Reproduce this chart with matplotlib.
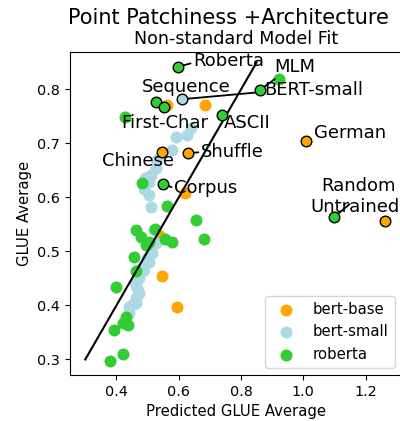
import matplotlib.pyplot as plt

# bert-base (orange)
base_x = [0.561, 0.686, 0.621, 0.547, 0.596, 0.541]
base_y = [0.772, 0.771, 0.608, 0.454, 0.397, 0.528]

# bert-small (light blue)
small_x = [0.640, 0.628, 0.592, 0.579, 0.531, 0.528, 0.512, 0.506, 0.490, 0.506,
           0.512, 0.522, 0.528, 0.515, 0.506, 0.490, 0.474, 0.467, 0.464, 0.474,
           0.451, 0.441, 0.441, 0.464, 0.499, 0.483, 0.461, 0.493]
small_y = [0.728, 0.715, 0.712, 0.687, 0.669, 0.654, 0.641, 0.628, 0.615, 0.604,
           0.582, 0.540, 0.516, 0.497, 0.480, 0.465, 0.451, 0.432, 0.414, 0.423,
           0.401, 0.397, 0.386, 0.404, 0.488, 0.471, 0.441, 0.636]

# roberta (green)
rob_x = [0.429, 0.923, 0.483, 0.563, 0.654, 0.464, 0.525, 0.557, 0.579, 0.682,
         0.480, 0.496, 0.506, 0.455, 0.463, 0.400, 0.432, 0.420, 0.436, 0.393,
         0.420, 0.380]
rob_y = [0.749, 0.819, 0.627, 0.584, 0.558, 0.540, 0.541, 0.523, 0.517, 0.523,
         0.527, 0.512, 0.517, 0.489, 0.463, 0.434, 0.378, 0.367, 0.364, 0.354,
         0.310, 0.297]

# labelled (non-standard) models
lab_names = ["Roberta", "MLM", "BERT-small", "Sequence", "First-Char", "ASCII",
             "Chinese", "Shuffle", "Corpus", "German", "Random", "Untrained"]
lab_x = [0.599, 0.861, 0.612, 0.528, 0.554, 0.740, 0.547, 0.631, 0.551, 1.009, 1.100, 1.263]
lab_y = [0.842, 0.799, 0.782, 0.776, 0.767, 0.752, 0.684, 0.682, 0.625, 0.704, 0.564, 0.556]
lab_model = ["roberta", "roberta", "bert-small", "roberta", "roberta", "roberta",
             "bert-base", "bert-base", "roberta", "bert-base", "roberta", "bert-base"]
text_x = [0.647, 0.907, 0.875, 0.483, 0.416, 0.746, 0.355, 0.672, 0.586, 1.035, 1.058, 1.022]
text_y = [0.853, 0.841, 0.799, 0.804, 0.738, 0.738, 0.667, 0.684, 0.617, 0.719, 0.621, 0.582]
# where the connector leaves the label box
rel_pos = [(0, 0.4), (0.1, 0), (0, 0.4), (0.2, 0), (0.45, 1), (0, 1),
           (0.8, 1), (0, 0.5), (0, 0.5), (0, 0), (0.38, -0.5), (0.79, 0)]

colors = {"bert-base": "orange", "bert-small": "lightblue", "roberta": "limegreen"}

fig = plt.figure(figsize=(4, 4.21), dpi=100)
ax = fig.add_axes([0.175, 0.109, 0.83, 0.767])

ax.scatter(base_x, base_y, s=58, color=colors["bert-base"], label="bert-base", zorder=2)
ax.scatter(small_x, small_y, s=58, color=colors["bert-small"], label="bert-small", zorder=2)
ax.scatter(rob_x, rob_y, s=58, color=colors["roberta"], label="roberta", zorder=2)

# identity line
ax.plot([0.3, 0.85], [0.3, 0.85], color="black", lw=1.5, zorder=3)

for name, x, y, m, tx, ty, rp in zip(lab_names, lab_x, lab_y, lab_model,
                                     text_x, text_y, rel_pos):
    ax.annotate(name, xy=(x, y), xytext=(tx, ty), fontsize=13,
                ha="left", va="center", zorder=4,
                arrowprops=dict(arrowstyle="-", color="black", lw=1.3,
                                shrinkA=0, shrinkB=0, relpos=rp))
    ax.scatter([x], [y], s=58, color=colors[m], edgecolor="black",
               linewidth=1.0, zorder=5)

ax.set_xlim(0.251, 1.317)
ax.set_ylim(0.271, 0.869)
ax.set_xticks([0.4, 0.6, 0.8, 1.0, 1.2])
ax.set_yticks([0.3, 0.4, 0.5, 0.6, 0.7, 0.8])
ax.tick_params(labelsize=10.4)
ax.set_xlabel("Predicted GLUE Average", fontsize=10.7)
ax.set_ylabel("GLUE Average", fontsize=10.7)
ax.set_title("Non-standard Model Fit", fontsize=12.6, pad=6)
fig.suptitle("Point Patchiness +Architecture", fontsize=15, x=0.571, y=0.957, va="center")

ax.legend(loc="lower right", fontsize=10.7)

fig.savefig("out.png", dpi=100)
